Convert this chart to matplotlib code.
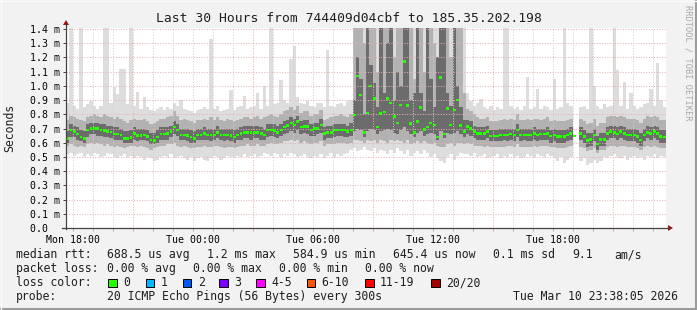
import numpy as np
import matplotlib
matplotlib.use("Agg")
import matplotlib.pyplot as plt
from matplotlib.patches import Rectangle, Polygon
from matplotlib.lines import Line2D

nan = np.nan

# ---------------- data (10-minute samples, values in ms) ----------------
start_hour = 17 + 38 / 60 + 5 / 3600          # Mon 17:38:05
span_hours = 30
step_hours = 1 / 6

rtt_median = [
    .63, .69, .68, .66, .64, .63, .69, .70, .70, .70,
    .69, .685, .68, .675, .66, .66, .655, .63, .63, .635,
    .665, .65, .65, .655, .645, .62, .615, .64, .66, .66,
    .665, .68, .71, .69, .655, .655, .65, .64, .63, .655,
    .655, .665, .655, .655, .655, .67, .655, .655, .655, .65,
    .64, .655, .665, .67, .67, .67, .67, .67, .665, .655,
    .69, .69, .685, .67, .69, .71, .72, .74, .725, .75,
    .71, .715, .715, .69, .70, .70, .725, .665, .67, .67,
    .69, .69, .69, .69, .68, .69, .795, 1.07, .936, .67,
    .81, 1.0, .912, .71, .807, .815, .91, .88, .783, .74,
    .866, 1.17, .86, .736, .67, .75, .847, .695, .71, .74,
    .725, .64, 1.06, .66, .84, .725, .83, .90, .72, .68,
    .713, .70, .678, .666, .666, .666, .678, .647, .647, .647,
    .654, .654, .654, .66, .654, .69, .654, .654, .654, .654,
    .666, .654, .66, .66, .666, .647, .654, .643, .643, .643,
    .654, .666, .647, nan, .666, .643, .615, .624, .654, .59,
    .624, .624, .666, .678, .671, .66, .678, .666, .654, .654,
    .654, .643, .62, .654, .671, .666, .678, .666, .643, .64,
]

rtt_min = [
    .52, .53, .51, .52, .53, .50, .52, .51, .53, .52,
    .50, .51, .53, .52, .50, .49, .51, .52, .50, .51,
    .49, .51, .50, .48, .50, .49, .47, .48, .50, .51,
    .50, .52, .49, .50, .51, .49, .48, .50, .47, .49,
    .50, .48, .47, .49, .51, .50, .48, .49, .51, .50,
    .49, .51, .50, .52, .50, .51, .52, .50, .51, .53,
    .52, .51, .53, .52, .50, .52, .51, .53, .52, .50,
    .51, .52, .50, .49, .51, .50, .52, .49, .51, .53,
    .50, .52, .51, .52, .53, .55, .56, .54, .55, .57,
    .55, .54, .56, .53, .55, .54, .52, .55, .53, .56,
    .54, .52, .55, .51, .53, .54, .52, .55, .53, .50,
    .52, .49, .47, .46, .50, .52, .48, .51, .53, .52,
    .52, .51, .53, .50, .51, .52, .49, .50, .51, .52,
    .49, .51, .50, .52, .50, .51, .49, .50, .52, .51,
    .50, .52, .51, .50, .52, .51, .49, .47, .50, .46,
    .48, .50, .51, nan, .47, .49, .44, .46, .48, .46,
    .47, .50, .49, .51, .52, .50, .49, .51, .48, .50,
    .51, .49, .50, .48, .51, .50, .52, .49, .51, .50,
]

rtt_low = [
    .58, .59, .58, .57, .58, .57, .59, .60, .59, .60,
    .59, .58, .59, .58, .57, .58, .57, .56, .57, .58,
    .58, .57, .58, .57, .56, .55, .56, .57, .58, .58,
    .59, .59, .60, .58, .57, .58, .57, .56, .56, .57,
    .57, .58, .57, .57, .58, .58, .57, .56, .57, .57,
    .56, .57, .58, .58, .59, .58, .58, .59, .58, .58,
    .59, .60, .59, .59, .60, .61, .61, .62, .61, .62,
    .60, .61, .60, .59, .60, .60, .61, .58, .59, .59,
    .59, .60, .60, .60, .59, .60, .62, .62, .61, .60,
    .62, .61, .62, .60, .62, .61, .60, .62, .61, .62,
    .61, .60, .62, .59, .60, .61, .60, .61, .60, .59,
    .60, .58, .57, .57, .59, .60, .58, .60, .60, .59,
    .60, .59, .58, .58, .58, .57, .58, .57, .57, .57,
    .57, .57, .58, .58, .57, .59, .57, .57, .57, .57,
    .58, .57, .58, .58, .58, .57, .57, .56, .56, .56,
    .57, .58, .56, nan, .57, .56, .54, .55, .56, .53,
    .55, .55, .57, .58, .58, .57, .58, .58, .57, .57,
    .57, .56, .55, .57, .58, .57, .58, .57, .56, .56,
]

rtt_core_low = [
    .60, .64, .64, .62, .61, .60, .64, .66, .66, .65,
    .65, .64, .64, .63, .62, .62, .62, .60, .60, .60,
    .62, .61, .62, .62, .61, .59, .59, .60, .62, .62,
    .62, .64, .66, .65, .62, .62, .61, .60, .60, .62,
    .62, .62, .62, .61, .62, .63, .62, .61, .62, .61,
    .60, .62, .62, .63, .63, .62, .63, .63, .62, .62,
    .64, .65, .64, .63, .65, .66, .67, .68, .67, .69,
    .66, .67, .66, .65, .65, .66, .67, .62, .63, .63,
    .64, .65, .65, .64, .64, .65, .68, .70, .69, .64,
    .68, .70, .69, .66, .68, .69, .70, .69, .67, .66,
    .69, .71, .68, .66, .64, .67, .68, .65, .66, .67,
    .66, .62, .68, .63, .67, .66, .67, .68, .66, .64,
    .66, .65, .63, .62, .62, .62, .63, .61, .61, .61,
    .61, .62, .61, .62, .61, .64, .61, .62, .61, .61,
    .62, .61, .62, .62, .62, .60, .61, .60, .60, .60,
    .61, .62, .60, nan, .62, .60, .57, .58, .61, .55,
    .58, .58, .62, .63, .63, .62, .63, .62, .61, .61,
    .61, .60, .58, .61, .63, .62, .63, .62, .60, .60,
]

rtt_core_high = [
    .68, .73, .72, .71, .69, .68, .73, .74, .74, .74,
    .73, .73, .72, .72, .71, .71, .70, .68, .68, .69,
    .71, .70, .70, .70, .69, .67, .67, .69, .71, .71,
    .71, .72, .75, .73, .70, .70, .70, .69, .68, .70,
    .70, .71, .70, .70, .70, .72, .70, .70, .70, .70,
    .69, .70, .71, .72, .72, .72, .72, .72, .71, .70,
    .73, .73, .73, .72, .73, .75, .76, .78, .77, .79,
    .75, .76, .76, .73, .74, .74, .77, .71, .72, .72,
    .73, .73, .73, .73, .72, .74, .90, 1.20, 1.05, .80,
    1.45, 1.15, 1.02, .85, 1.45, .95, 1.30, 1.45, .90, 1.10,
    1.00, 1.45, 1.45, .90, .95, 1.45, .95, .82, 1.45, 1.05,
    .85, 1.20, 1.45, 1.45, .95, .86, 1.45, 1.00, .85, .76,
    .76, .75, .72, .71, .71, .71, .72, .69, .69, .69,
    .70, .70, .70, .70, .70, .73, .70, .70, .70, .70,
    .71, .70, .70, .70, .71, .69, .70, .69, .69, .69,
    .70, .71, .69, nan, .71, .69, .67, .67, .70, .65,
    .67, .67, .71, .72, .72, .71, .72, .71, .70, .70,
    .70, .69, .67, .70, .72, .71, .72, .71, .69, .69,
]

rtt_high = [
    .76, .79, .78, .77, .76, .75, .78, .79, .80, .79,
    .78, .80, .79, .78, .77, .78, .77, .75, .74, .76,
    .77, .76, .76, .77, .75, .73, .74, .75, .77, .77,
    .78, .79, .82, .79, .76, .77, .76, .75, .74, .76,
    .76, .77, .76, .78, .76, .78, .76, .75, .77, .76,
    .75, .76, .77, .78, .78, .77, .78, .79, .77, .78,
    .79, .80, .79, .78, .80, .82, .83, .85, .83, .86,
    .81, .82, .82, .79, .80, .80, .83, .76, .77, .78,
    .79, .79, .80, .79, .78, .80, 1.45, 1.45, 1.45, 1.30,
    1.45, 1.45, 1.45, 1.10, 1.45, 1.45, 1.45, 1.45, 1.20, 1.45,
    1.45, 1.45, 1.45, 1.45, 1.05, 1.45, 1.45, 1.10, 1.45, 1.45,
    1.30, 1.05, 1.45, 1.45, 1.45, 1.20, 1.45, 1.45, 1.45, .95,
    .84, .82, .80, .78, .77, .77, .78, .75, .75, .75,
    .76, .77, .76, .77, .76, .80, .76, .76, .77, .76,
    .77, .77, .76, .77, .78, .75, .76, .75, .75, .75,
    .76, .77, .75, nan, .77, .75, .73, .74, .77, .72,
    .74, .74, .78, .79, .79, .78, .79, .78, .77, .77,
    .77, .76, .74, .77, .79, .78, .79, .78, .76, .76,
]

rtt_max = [
    .88, 1.45, .86, .84, 1.45, .85, .87, .89, .86, .84,
    .86, 1.45, 1.45, .88, .99, .94, 1.12, 1.12, .87, 1.45,
    .86, .96, .84, .92, .85, .83, .82, .84, .85, .83,
    .85, .84, .88, .86, .90, .84, .83, .82, .81, .83,
    .84, .85, .84, 1.33, .84, .86, .82, .83, .84, .97,
    .83, .85, .86, .93, .84, .85, .86, .95, .84, 1.00,
    .86, 1.45, .87, .88, 1.04, .90, .88, 1.19, 1.28, .92,
    .88, .87, .89, .86, .85, .88, .88, .85, 1.25, .86,
    .85, .87, .88, .86, .89, .90, 1.45, 1.45, 1.45, 1.45,
    1.45, 1.45, 1.45, 1.45, 1.45, 1.45, 1.45, 1.45, 1.45, 1.45,
    1.45, 1.45, 1.45, 1.45, 1.45, 1.45, 1.45, 1.45, 1.45, 1.45,
    1.45, 1.45, 1.45, 1.45, 1.45, 1.45, 1.45, 1.45, 1.45, 1.45,
    .95, .89, .86, .88, .91, .85, .84, .86, .83, .85,
    .84, 1.45, 1.45, .86, .84, .85, .83, .86, 1.06, .84,
    .85, .98, .84, .86, .85, .83, 1.05, .84, .85, 1.45,
    .88, .86, .84, nan, .85, .86, .84, 1.45, 1.00, .86,
    .84, .87, .85, .86, 1.45, 1.11, .86, 1.03, .84, .95,
    .86, .84, .85, .87, .88, .98, .86, 1.16, .90, .85,
]

y_ticks = [0.0, 0.1, 0.2, 0.3, 0.4, 0.5, 0.6, 0.7, 0.8, 0.9, 1.0, 1.1, 1.2, 1.3, 1.4]
y_tick_labels = ["0.0  ", "0.1 m", "0.2 m", "0.3 m", "0.4 m", "0.5 m", "0.6 m",
                 "0.7 m", "0.8 m", "0.9 m", "1.0 m", "1.1 m", "1.2 m", "1.3 m", "1.4 m"]
x_tick_hours = [18, 24, 30, 36, 42]
x_tick_labels = ["Mon 18:00", "Tue 00:00", "Tue 06:00", "Tue 12:00", "Tue 18:00"]
major_grid_hours = [21, 27, 33, 39, 45]

title = "Last 30 Hours from 744409d04cbf to 185.35.202.198"
legend_rtt = [("median rtt:", 16), ("688.5 us avg", 107.3), ("1.2 ms max", 207.3),
              ("584.9 us min", 293.3), ("645.4 us now", 393.3), ("0.1 ms sd", 493.3),
              ("9.1", 572.7), ("am/s", 614.3)]
legend_loss = [("packet loss:", 16), ("0.00 % avg", 107.3), ("0.00 % max", 193.3),
               ("0.00 % min", 279.3), ("0.00 % now", 365)]
loss_labels = ["0", "1", "2", "3", "4-5", "6-10", "11-19", "20/20"]
loss_colors = ["#26ff00", "#00b8ff", "#0059ff", "#7e00ff", "#ff00ff", "#ff5500", "#ff0000", "#a10000"]
loss_box_x = [108.3, 145.7, 182.7, 219.3, 256, 306.7, 365, 431]
probe_text = "20 ICMP Echo Pings (56 Bytes) every 300s"
stamp_text = "Tue Mar 10 23:38:05 2026"

# ---------------- figure ----------------
W, H = 697, 310
fig = plt.figure(figsize=(W / 100, H / 100), dpi=100)
fig.patch.set_facecolor("#f2f2f2")

def fx(px):
    return px / W

def fy(py):
    return 1 - py / H

mono = "DejaVu Sans Mono"
px_per_ms = 142.14
ax_left, ax_right, ax_bottom, ax_top = 66, 666, 228, 28
ax = fig.add_axes([fx(ax_left), fy(ax_bottom), (ax_right - ax_left) / W, (ax_bottom - ax_top) / H])
ax.set_facecolor("white")
ax.set_xlim(start_hour, start_hour + span_hours)
ax.set_ylim(0, (ax_bottom - ax_top) / px_per_ms)
for s in ax.spines.values():
    s.set_visible(False)

n = len(rtt_median)
edges = start_hour + np.arange(n + 1) * step_hours
centers = start_hour + (np.arange(n) + 0.5) * step_hours

def ext(a):
    a = np.asarray(a, dtype=float)
    return np.append(a, a[-1])

ax.fill_between(edges, ext(rtt_min), ext(rtt_max), step="post", color="#dddddd", lw=0, zorder=1)
ax.fill_between(edges, ext(rtt_low), ext(rtt_high), step="post", color="#b2b2b2", lw=0, zorder=1.1)
ax.fill_between(edges, ext(rtt_core_low), ext(rtt_core_high), step="post", color="#6c6c6c", lw=0, zorder=1.2)

# grid (dotted)
grid_kw = dict(lw=0.72, ls=(0, (1, 1.6)), zorder=2)
for v in y_ticks[1:]:
    ax.axhline(v, color="#eab0b0", **grid_kw)
hours = np.arange(np.ceil(start_hour), start_hour + span_hours, 1.0)
for h in hours:
    if h in major_grid_hours:
        ax.axvline(h, color="#eab0b0", **grid_kw)
    else:
        ax.axvline(h, color="#cdcdcd", **grid_kw)

# median markers
med = np.asarray(rtt_median, dtype=float)
ok = ~np.isnan(med)
mh = 2.6 / px_per_ms
ax.bar(centers[ok], mh, bottom=med[ok] - mh / 2, width=step_hours * 0.9, align="center",
       color="#26ff00", lw=0, zorder=3)

# ticks
ax.set_yticks(y_ticks)
ax.set_yticklabels(y_tick_labels, family=mono, fontsize=7.1)
ax.set_xticks(x_tick_hours)
ax.set_xticklabels(x_tick_labels, family=mono, fontsize=7.1)
ax.set_xticks(hours, minor=True)
ax.tick_params(axis="y", length=2.2, width=0.7, color="#404040", pad=2.4)
ax.tick_params(axis="x", which="both", length=2.2, width=0.7, color="#d0a0a0", pad=2.5)

# axes lines and arrows
fig.add_artist(Line2D([fx(66), fx(66)], [fy(229), fy(24)], color="#444444", lw=0.9))
fig.add_artist(Line2D([fx(62), fx(669)], [fy(228), fy(228)], color="#444444", lw=0.9))
fig.add_artist(Polygon([[fx(63), fy(25)], [fx(69), fy(25)], [fx(66), fy(20)]],
                       closed=True, color="#a01010", lw=0))
fig.add_artist(Polygon([[fx(668), fy(225)], [fx(668), fy(231)], [fx(673), fy(228)]],
                       closed=True, color="#a01010", lw=0))

# texts
fig.text(fx(348.5), fy(18), title, family=mono, fontsize=9.4, ha="center", va="center", color="#202020")
fig.text(fx(10), fy(128), "Seconds", family=mono, fontsize=8.3, rotation=90, ha="center", va="center", color="#202020")
fig.text(fx(688), fy(5), "RRDTOOL / TOBI OETIKER", family=mono, fontsize=6.2, rotation=-90,
         ha="center", va="top", color="#a8a8a8")

def ltext(s, x, base):
    fig.text(fx(x), fy(base), s, family=mono, fontsize=8.3, ha="left", va="baseline", color="#202020")

for s, x in legend_rtt:
    ltext(s, x, 258.3)
for s, x in legend_loss:
    ltext(s, x, 272.3)
ltext("loss color:", 16, 286.3)
for lab, col, bx in zip(loss_labels, loss_colors, loss_box_x):
    fig.add_artist(Rectangle((fx(bx), fy(287)), 8.5 / W, 8.5 / H, facecolor=col,
                             edgecolor="black", lw=0.7))
    ltext(lab, bx + 15, 286.3)
ltext("probe:", 16, 300)
ltext(probe_text, 107.3, 300)
ltext(stamp_text, 513, 300)

# frame shading
fig.add_artist(Line2D([0, 1], [fy(308.5), fy(308.5)], color="#9c9c9c", lw=1.5))
fig.add_artist(Line2D([fx(695.5), fx(695.5)], [0, 1], color="#9c9c9c", lw=1.5))
fig.add_artist(Line2D([0, 1], [fy(0.5), fy(0.5)], color="#fbfbfb", lw=1.0))
fig.add_artist(Line2D([fx(0.5), fx(0.5)], [0, 1], color="#fbfbfb", lw=1.0))

fig.savefig("out.png", dpi=100, facecolor=fig.get_facecolor())
